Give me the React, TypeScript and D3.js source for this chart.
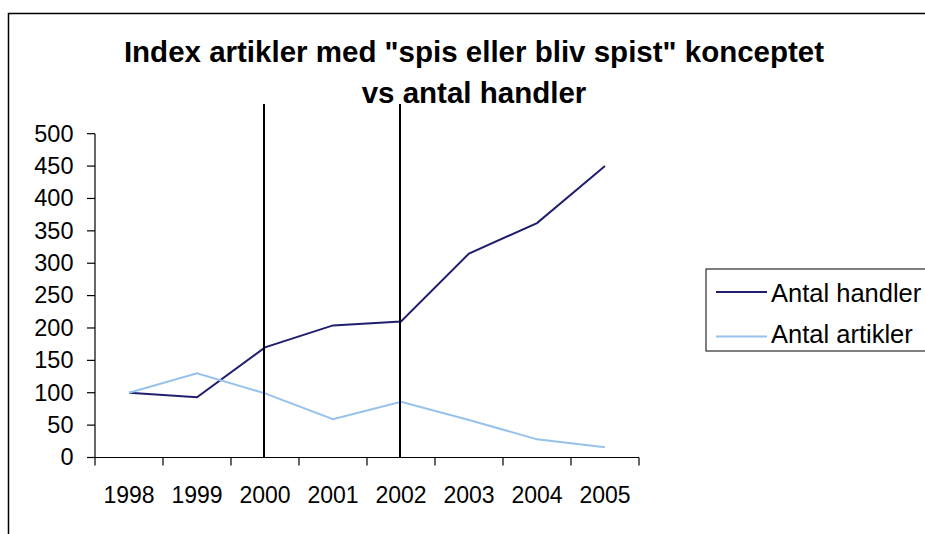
import React from "react";
import * as d3 from "d3";

const years = ["1998", "1999", "2000", "2001", "2002", "2003", "2004", "2005"];
const antalHandler = [100, 93, 170, 204, 210, 315, 362, 450];
const antalArtikler = [100, 130, 99, 59, 86, 58, 28, 16];
const yTicks = [0, 50, 100, 150, 200, 250, 300, 350, 400, 450, 500];
const markerYears = ["2000", "2002"];
const titleLines = ['Index artikler med "spis eller bliv spist" konceptet', "vs antal handler"];
const seriesNames = ["Antal handler", "Antal artikler"];
const seriesColors = ["#1f1f70", "#96c2ec"];

export default function App() {
  const W = 925, H = 534;
  const left = 95, right = 639, top = 133.7, bottom = 457.5;
  const x = d3.scaleBand<string>().domain(years).range([left, right]);
  const y = d3.scaleLinear().domain([0, 500]).range([bottom, top]);
  const cx = (yr: string) => (x(yr) ?? 0) + x.bandwidth() / 2;
  const line = d3.line<number>().x((_, i) => cx(years[i])).y((d) => y(d));
  const font = "Liberation Sans, Arial, sans-serif";
  const series = [antalHandler, antalArtikler];
  const boundaries = years.map((yr) => x(yr) ?? 0).concat([right]);

  return (
    <svg width={W} height={H} style={{ position: "absolute", left: 0, top: 0, background: "#fff" }} fontFamily={font}>
      <rect x={8.5} y={13.5} width={W + 20} height={H + 20} fill="#fff" stroke="#000" strokeWidth={1.5} />
      {titleLines.map((t, i) => (
        <text key={i} x={474} y={62 + i * 41} textAnchor="middle" fontSize={29.5} fontWeight="bold" fill="#000">{t}</text>
      ))}
      {/* axes */}
      <line x1={left} x2={left} y1={top} y2={bottom} stroke="#000" strokeWidth={1.2} />
      <line x1={left} x2={right} y1={bottom} y2={bottom} stroke="#000" strokeWidth={1.2} />
      {yTicks.map((t) => (
        <g key={t}>
          <line x1={left - 8} x2={left} y1={y(t)} y2={y(t)} stroke="#000" strokeWidth={1.2} />
          <text x={73.5} y={y(t) + 7.8} textAnchor="end" fontSize={23.5} fill="#000">{t}</text>
        </g>
      ))}
      {boundaries.map((bx, i) => (
        <line key={i} x1={bx} x2={bx} y1={bottom} y2={bottom + 8} stroke="#000" strokeWidth={1.2} />
      ))}
      {years.map((yr) => (
        <text key={yr} x={cx(yr)} y={503} textAnchor="middle" fontSize={23} fill="#000">{yr}</text>
      ))}
      {series.map((s, i) => (
        <path key={i} d={line(s) ?? ""} fill="none" stroke={seriesColors[i]} strokeWidth={2} />
      ))}
      {markerYears.map((yr) => (
        <line key={yr} x1={cx(yr) - 1} x2={cx(yr) - 1} y1={104} y2={bottom} stroke="#000" strokeWidth={2} />
      ))}
      {/* legend */}
      <rect x={706} y={269} width={240} height={82} fill="#fff" stroke="#000" strokeWidth={1} />
      {seriesNames.map((n, i) => (
        <g key={n}>
          <line x1={716} x2={767} y1={292 + i * 44.5} y2={292 + i * 44.5} stroke={seriesColors[i]} strokeWidth={2} />
          <text x={771} y={302 + i * 41} fontSize={25.5} fill="#000">{n}</text>
        </g>
      ))}
    </svg>
  );
}
